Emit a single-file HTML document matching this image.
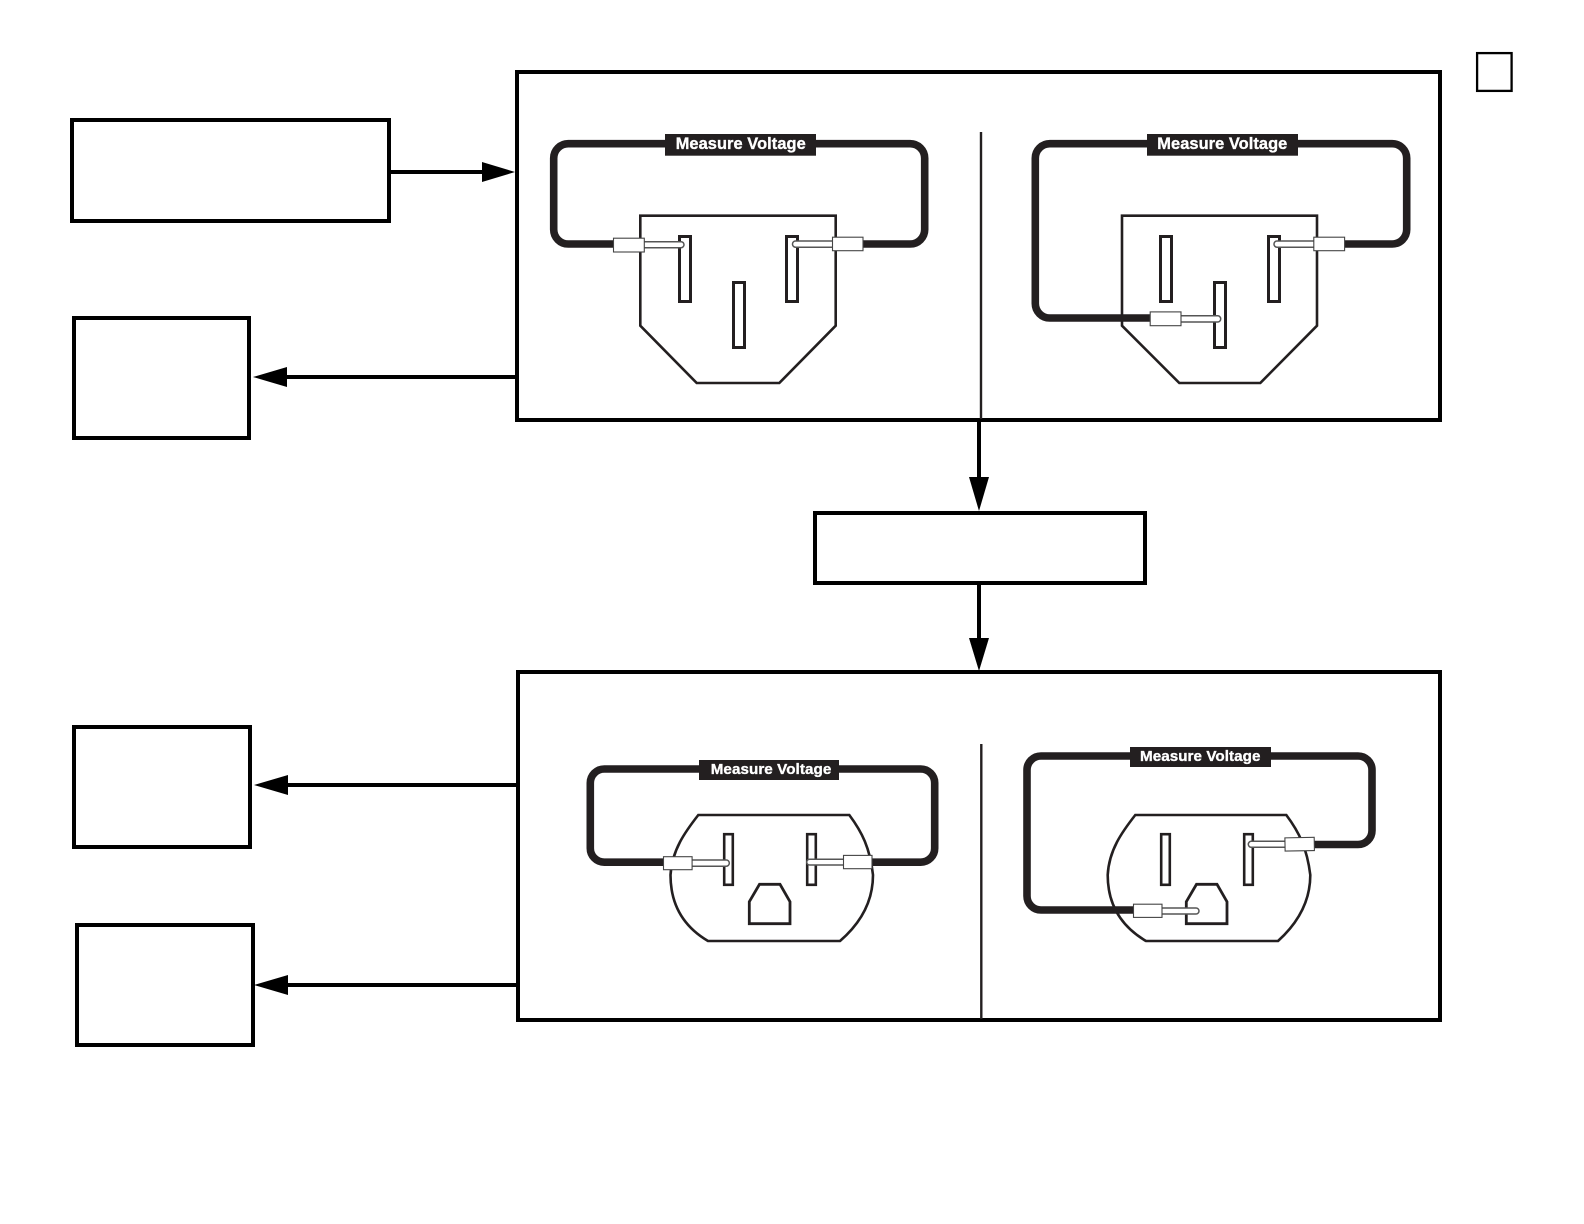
<!DOCTYPE html>
<html>
<head>
<meta charset="utf-8">
<style>
html,body{margin:0;padding:0;background:#fff;width:1584px;height:1224px;overflow:hidden}
svg{display:block}
.box{fill:#fff;stroke:#000;stroke-width:4}
.ln{stroke:#000;stroke-width:4;fill:none}
.div{stroke:#231f20;stroke-width:2.4;fill:none}
.out{fill:#fff;stroke:#231f20;stroke-width:2.6;stroke-linejoin:miter}
.slot{fill:#fff;stroke:#231f20;stroke-width:3}
.wire{fill:none;stroke:#231f20;stroke-width:7.6}
.pin{fill:#fff;stroke:#555;stroke-width:1.5}
.body{fill:#fff;stroke:#444;stroke-width:1.1}
.lab{fill:#231f20}
text{font-family:"Liberation Sans",sans-serif;font-weight:bold;fill:#fff;stroke:#fff;stroke-width:.35}
</style>
</head>
<body>
<svg width="1584" height="1224" viewBox="0 0 1584 1224" xmlns="http://www.w3.org/2000/svg">
<!-- checkbox -->
<rect x="1477.1" y="53.1" width="34.5" height="37.8" fill="#fff" stroke="#000" stroke-width="2.3"/>

<!-- left boxes -->
<rect class="box" x="72" y="120" width="317" height="101"/>
<rect class="box" x="74" y="318" width="175" height="120"/>
<rect class="box" x="74" y="727" width="176" height="120"/>
<rect class="box" x="77" y="925" width="176" height="120"/>
<rect class="box" x="815" y="513" width="330" height="70"/>

<!-- big boxes -->
<rect class="box" x="517" y="72" width="923" height="348"/>
<rect class="box" x="518" y="672" width="922" height="348"/>
<line class="div" x1="981" y1="132" x2="981" y2="419"/>
<line class="div" x1="981.3" y1="744" x2="981.3" y2="1019"/>

<!-- arrows -->
<line class="ln" x1="391" y1="172" x2="484" y2="172"/>
<polygon points="482,162 515,172 482,182" fill="#000"/>
<line class="ln" x1="515" y1="377" x2="285" y2="377"/>
<polygon points="287,367 253,377 287,387" fill="#000"/>
<line class="ln" x1="516" y1="785" x2="286" y2="785"/>
<polygon points="288,775 254,785 288,795" fill="#000"/>
<line class="ln" x1="516" y1="985" x2="286" y2="985"/>
<polygon points="288,975 254,985 288,995" fill="#000"/>
<line class="ln" x1="979" y1="422" x2="979" y2="479"/>
<polygon points="969,477 979,511 989,477" fill="#000"/>
<line class="ln" x1="979" y1="585" x2="979" y2="640"/>
<polygon points="969,638 979,671 989,638" fill="#000"/>

<!-- socket 1 -->
<polygon class="out" points="640.3,215.7 835.7,215.7 835.7,325.7 779.3,383 696.7,383 640.3,325.7"/>
<rect class="slot" x="679.5" y="236.5" width="11" height="65"/>
<rect class="slot" x="786.5" y="236.5" width="11" height="65"/>
<rect class="slot" x="733.5" y="282.5" width="11" height="65"/>
<path class="wire" d="M666,143.7 H568.2 A14.5,14.5 0 0 0 553.7,158.2 V229.5 A14.5,14.5 0 0 0 568.2,244 H614"/>
<path class="wire" d="M815,143.7 H910.2 A14.5,14.5 0 0 1 924.7,158.2 V229.5 A14.5,14.5 0 0 1 910.2,244 H862"/>
<rect class="pin" x="640" y="241.7" width="44" height="6" rx="3"/>
<rect class="body" x="613.5" y="238.2" width="30.8" height="13.8"/>
<rect class="pin" x="792.5" y="241" width="44" height="6.2" rx="3"/>
<rect class="body" x="832.5" y="237.2" width="30.5" height="13.5"/>
<rect class="lab" x="665" y="134" width="151" height="21.7"/>
<text x="675.7" y="149" font-size="16.4" textLength="130" lengthAdjust="spacing">Measure Voltage</text>

<!-- socket 2 -->
<polygon class="out" points="1122,215.7 1317,215.7 1317,325.7 1260.3,383 1179.3,383 1122,325.7"/>
<rect class="slot" x="1160.5" y="236.5" width="11" height="65"/>
<rect class="slot" x="1268.5" y="236.5" width="11" height="65"/>
<rect class="slot" x="1214.5" y="282.5" width="11" height="65"/>
<path class="wire" d="M1148,143.7 H1049.8 A14.5,14.5 0 0 0 1035.3,158.2 V303.5 A14.5,14.5 0 0 0 1049.8,318 H1151"/>
<path class="wire" d="M1297,143.7 H1392.2 A14.5,14.5 0 0 1 1406.7,158.2 V229.5 A14.5,14.5 0 0 1 1392.2,244 H1344"/>
<rect class="pin" x="1176" y="315.8" width="44.7" height="6.2" rx="3"/>
<rect class="body" x="1150.2" y="311.9" width="30.8" height="13.8"/>
<rect class="pin" x="1274" y="241" width="44" height="6.2" rx="3"/>
<rect class="body" x="1313.8" y="237.2" width="30.8" height="13.5"/>
<rect class="lab" x="1147" y="134" width="151" height="21.7"/>
<text x="1157.3" y="149" font-size="16.4" textLength="130" lengthAdjust="spacing">Measure Voltage</text>

<!-- socket 3 -->
<path class="out" d="M698.3,815 H849.3 C862,832 870,848 873,875 C873,900 862,922 840,941 H708 C686,928 670.5,908 670.5,875 C672,850 685,832 698.3,815 Z"/>
<rect class="slot" x="724.2" y="834.2" width="8.6" height="50.6" style="stroke-width:2.6"/>
<rect class="slot" x="807.2" y="834.2" width="8.6" height="50.6" style="stroke-width:2.6"/>
<path class="out" style="stroke-width:2.8" d="M759.5,884.3 H780 L790,901.7 V923.7 H749.3 V901.7 Z"/>
<path class="wire" d="M700,769 H604.3 A14,14 0 0 0 590.3,783 V848.2 A14,14 0 0 0 604.3,862.2 H664"/>
<path class="wire" d="M838,769 H920.7 A14,14 0 0 1 934.7,783 V848.2 A14,14 0 0 1 920.7,862.2 H871"/>
<rect class="pin" x="688" y="860" width="41.3" height="6.2" rx="3"/>
<rect class="body" x="663.5" y="856.7" width="28.6" height="13"/>
<rect class="pin" x="806.7" y="859.2" width="40" height="5.8" rx="2.9"/>
<rect class="body" x="843.5" y="855.4" width="28.5" height="13.3"/>
<rect class="lab" x="699" y="760" width="140" height="20"/>
<text x="710.7" y="774" font-size="15.2" textLength="120.6" lengthAdjust="spacing">Measure Voltage</text>

<!-- socket 4 -->
<path class="out" d="M1135.3,815 H1286.3 C1299,832 1307,848 1310.3,875 C1310.3,900 1299,922 1278,941 H1146 C1124,928 1107.7,908 1107.7,875 C1109,850 1122,832 1135.3,815 Z"/>
<rect class="slot" x="1161.2" y="834.2" width="8.6" height="50.6" style="stroke-width:2.6"/>
<rect class="slot" x="1244.2" y="834.2" width="8.6" height="50.6" style="stroke-width:2.6"/>
<path class="out" style="stroke-width:2.8" d="M1196.5,884.3 H1217 L1227,901.7 V923.7 H1186.3 V901.7 Z"/>
<path class="wire" d="M1131,756 H1041 A14,14 0 0 0 1027,770 V896 A14,14 0 0 0 1041,910 H1134"/>
<path class="wire" d="M1270,756 H1358 A14,14 0 0 1 1372,770 V830.5 A14,14 0 0 1 1358,844.5 H1313"/>
<rect class="pin" x="1158" y="908" width="41" height="6" rx="3"/>
<rect class="body" x="1133.5" y="904.2" width="28.5" height="13.2"/>
<rect class="pin" x="1248.3" y="841.3" width="40" height="6" rx="3"/>
<rect class="body" x="1285" y="837.6" width="29.3" height="13.2" transform="rotate(-1 1300 844)"/>
<rect class="lab" x="1130" y="747" width="141" height="20"/>
<text x="1140" y="761" font-size="15.2" textLength="120.4" lengthAdjust="spacing">Measure Voltage</text>
</svg>
</body>
</html>
